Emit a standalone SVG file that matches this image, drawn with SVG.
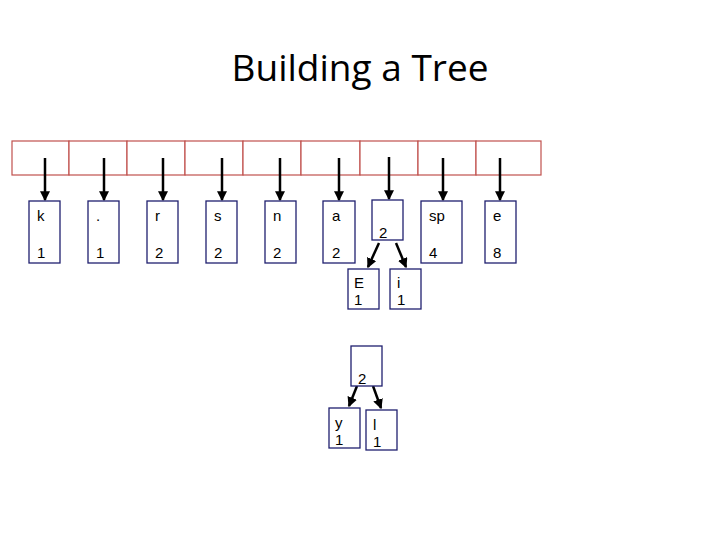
<svg xmlns="http://www.w3.org/2000/svg" width="720" height="540" viewBox="0 0 720 540">
<defs>
<marker id="ah" markerWidth="4" markerHeight="4" refX="3.5" refY="2" orient="auto" markerUnits="strokeWidth"><path d="M0,0 L4,2 L0,4 z" fill="#000"/></marker>
<style>
.cell{fill:#fff;stroke:#c0504d;stroke-width:1.2}
.box{fill:#fff;stroke:#1f1f6f;stroke-width:1.3}
.t{font-family:"Liberation Sans",sans-serif;font-size:15px;fill:#000}
.c line{stroke:#000;stroke-width:2.5;marker-end:url(#ah)}
</style>
</defs>
<rect width="720" height="540" fill="#fff"/>
<text x="360" y="81" text-anchor="middle" font-family="'Open Sans','Liberation Sans',sans-serif" font-size="37">Building a Tree</text>
<g id="array">
<rect class="cell" x="12" y="141" width="57" height="34"/>
<rect class="cell" x="69" y="141" width="58" height="34"/>
<rect class="cell" x="127" y="141" width="58" height="34"/>
<rect class="cell" x="185" y="141" width="58" height="34"/>
<rect class="cell" x="243" y="141" width="58" height="34"/>
<rect class="cell" x="301" y="141" width="59" height="34"/>
<rect class="cell" x="360" y="141" width="58" height="34"/>
<rect class="cell" x="418" y="141" width="58" height="34"/>
<rect class="cell" x="476" y="141" width="65" height="34"/>
</g>
<g class="c" id="connectors">
<line x1="45" y1="158" x2="45" y2="200"/>
<line x1="104" y1="158" x2="104" y2="200"/>
<line x1="163" y1="158" x2="163" y2="200"/>
<line x1="222" y1="158" x2="222" y2="200"/>
<line x1="280" y1="158" x2="280" y2="200"/>
<line x1="339" y1="158" x2="339" y2="200"/>
<line x1="389" y1="157" x2="389" y2="199"/>
<line x1="443" y1="158" x2="443" y2="200"/>
<line x1="500" y1="158" x2="500" y2="200"/>
<line x1="379" y1="243" x2="368" y2="267"/>
<line x1="396" y1="243" x2="406" y2="267"/>
<line x1="357" y1="386" x2="349" y2="406"/>
<line x1="373" y1="386" x2="381" y2="408"/>
</g>
<g id="k"><rect class="box" x="29" y="201" width="31" height="62"/><text class="t" x="37" y="221">k</text><text class="t" x="37" y="258">1</text></g>
<g id="dot"><rect class="box" x="88" y="201" width="31" height="62"/><text class="t" x="96" y="221">.</text><text class="t" x="96" y="258">1</text></g>
<g id="r"><rect class="box" x="147" y="201" width="31" height="62"/><text class="t" x="155" y="221">r</text><text class="t" x="155" y="258">2</text></g>
<g id="s"><rect class="box" x="206" y="201" width="31" height="62"/><text class="t" x="214" y="221">s</text><text class="t" x="214" y="258">2</text></g>
<g id="n"><rect class="box" x="265" y="201" width="31" height="62"/><text class="t" x="273" y="221">n</text><text class="t" x="273" y="258">2</text></g>
<g id="a"><rect class="box" x="323" y="201" width="32" height="62"/><text class="t" x="332" y="221">a</text><text class="t" x="332" y="258">2</text></g>
<g id="n2"><rect class="box" x="372" y="200" width="31" height="40"/><text class="t" x="379" y="238">2</text></g>
<g id="sp"><rect class="box" x="421" y="201" width="41" height="62"/><text class="t" x="429" y="221">sp</text><text class="t" x="429" y="258">4</text></g>
<g id="e"><rect class="box" x="485" y="201" width="31" height="62"/><text class="t" x="493" y="221">e</text><text class="t" x="493" y="258">8</text></g>
<g id="E"><rect class="box" x="348" y="269" width="31" height="40"/><text class="t" x="354" y="288">E</text><text class="t" x="354" y="305">1</text></g>
<g id="i"><rect class="box" x="390" y="269" width="31" height="40"/><text class="t" x="397" y="288">i</text><text class="t" x="397" y="305">1</text></g>
<g id="n3"><rect class="box" x="351" y="346" width="31" height="40"/><text class="t" x="358" y="384">2</text></g>
<g id="y"><rect class="box" x="329" y="408" width="31" height="40"/><text class="t" x="335" y="428">y</text><text class="t" x="335" y="445">1</text></g>
<g id="l"><rect class="box" x="366" y="410" width="31" height="40"/><text class="t" x="373" y="430">l</text><text class="t" x="373" y="447">1</text></g>
</svg>
